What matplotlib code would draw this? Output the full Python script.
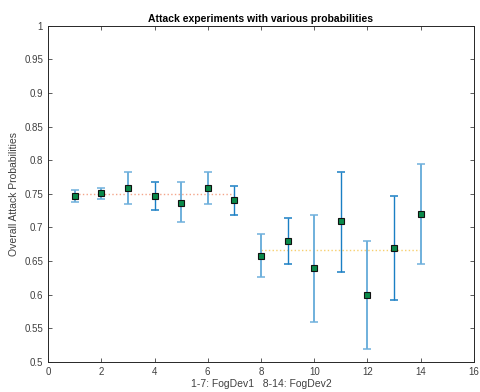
"""
Attack experiments with various probabilities (errorbar chart).
"""
import matplotlib
matplotlib.use("Agg")
import matplotlib.pyplot as plt
import numpy as np

plt.rcParams["font.family"] = ["Liberation Sans", "DejaVu Sans"]

x_vals = [1, 2, 3, 4, 5, 6, 7, 8, 9, 10, 11, 12, 13, 14]
means = [0.747, 0.751, 0.759, 0.747, 0.737, 0.759, 0.741,
         0.658, 0.680, 0.639, 0.709, 0.600, 0.670, 0.720]
upper = [0.756, 0.759, 0.783, 0.768, 0.768, 0.783, 0.762,
         0.690, 0.714, 0.718, 0.783, 0.680, 0.747, 0.795]
lower = [0.738, 0.742, 0.735, 0.726, 0.708, 0.735, 0.719,
         0.626, 0.646, 0.560, 0.634, 0.519, 0.592, 0.646]
light_bar = [True, True, True, False, True, True, False,
             True, False, True, False, True, False, True]

group1_mean = 0.75
group2_mean = 0.667

fig = plt.figure(figsize=(4.8, 3.92), dpi=100)
ax = fig.add_axes([0.1, 0.077, 0.8875, 0.857])

for xi, m, hi, lo, light in zip(x_vals, means, upper, lower, light_bar):
    color = "#6fb0dc" if light else "#1a7fc4"
    lw = 1.4 if light else 1.0
    ax.errorbar([xi], [m], yerr=[[m - lo], [hi - m]], fmt="none",
                ecolor=color, elinewidth=lw, capsize=3.2, capthick=1.1, zorder=2)

ax.plot([1, 7], [group1_mean, group1_mean], linestyle=":", color="#f4a58a", lw=1.0, zorder=1)
ax.plot([8, 14], [group2_mean, group2_mean], linestyle=":", color="#f7cf6e", lw=1.0, zorder=1)

ax.plot(x_vals, means, linestyle="none", marker="s", markersize=3.8,
        markerfacecolor="#0a8a4a", markeredgecolor="#111111", markeredgewidth=0.8, zorder=3)

ax.set_xlim(0, 16)
ax.set_ylim(0.5, 1.0)
ax.set_xticks(np.arange(0, 17, 2))
ax.set_yticks(np.arange(0.5, 1.0001, 0.05))
ax.set_yticklabels(["0.5", "0.55", "0.6", "0.65", "0.7", "0.75", "0.8",
                    "0.85", "0.9", "0.95", "1"])
ax.tick_params(direction="in", top=True, right=True, labelsize=7,
               colors="#404040", length=3, width=0.6)
for side in ax.spines.values():
    side.set_color("#262626")
    side.set_linewidth(0.7)

ax.set_title("Attack experiments with various probabilities", fontsize=7.5,
             fontweight="bold", pad=3)
ax.set_xlabel("1-7: FogDev1   8-14: FogDev2", fontsize=7.5, color="#404040", labelpad=2)
ax.set_ylabel("Overall Attack Probabilities", fontsize=7.5, color="#404040", labelpad=4)

fig.savefig("out.png", dpi=100)
